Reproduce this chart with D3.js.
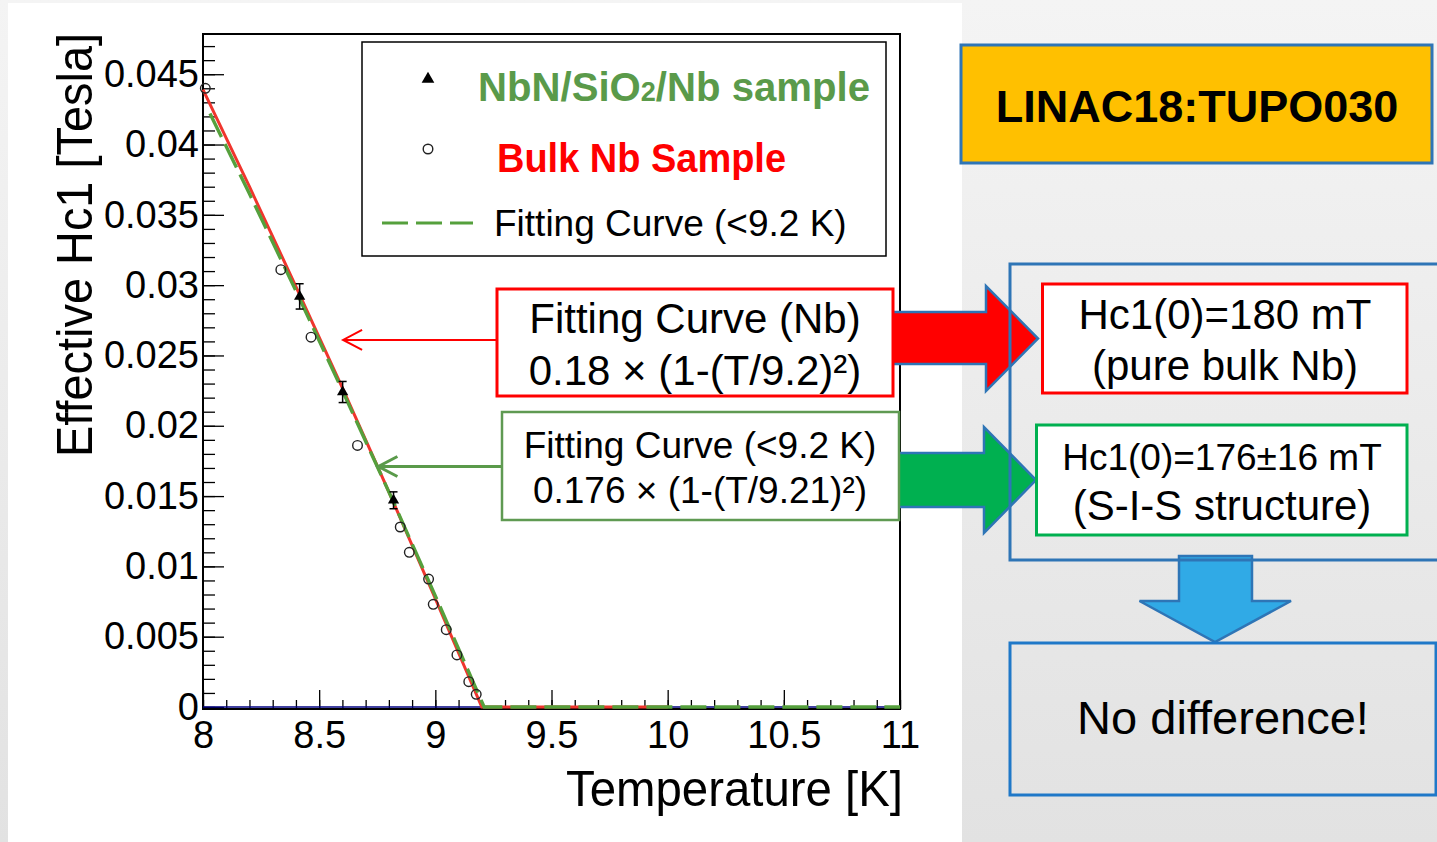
<!DOCTYPE html>
<html>
<head>
<meta charset="utf-8">
<script src="https://cdn.jsdelivr.net/npm/d3@7"></script>
<style>
  body { margin: 0; background: #e8e8e8; }
  text { font-family: "Liberation Sans", Arial, sans-serif; }
</style>
</head>
<body>
<svg id="chart" width="1437" height="842"></svg>
<script>
// bulk Nb sample (open circles)
const bulkT = [8.01, 8.335, 8.465, 8.665, 8.849, 8.888, 8.971, 8.991, 9.047, 9.093, 9.144, 9.176];
const bulkH = [0.0440, 0.0311, 0.0263, 0.0186, 0.0128, 0.0110, 0.0091, 0.0073, 0.0055, 0.0037, 0.0018, 0.0009];

// NbN/SiO2/Nb sample (triangles with error bars)
const filmT = [8.416, 8.601, 8.82];
const filmH = [0.0292, 0.0224, 0.0147];
const filmErr = [0.0009, 0.00075, 0.0006];

// fitting curve for Nb (red, solid)
const nbFitT = [8.0, 8.2, 8.4, 8.6, 8.8, 9.0, 9.2, 10.0];
const nbFitH = [0.0439, 0.0370, 0.0299, 0.0227, 0.0153, 0.0077, 0, 0];

// fitting curve < 9.2 K (green, dashed)
const sisFitT = [8.03, 8.2, 8.4, 8.6, 8.8, 9.0, 9.21, 11.0];
const sisFitH = [0.0422, 0.0365, 0.0296, 0.0225, 0.0153, 0.0079, 0, 0];

// axis ticks
const xMajor = [8, 8.5, 9, 9.5, 10, 10.5, 11];
const xLabels = ["8", "8.5", "9", "9.5", "10", "10.5", "11"];
const yMajor = [0, 0.005, 0.01, 0.015, 0.02, 0.025, 0.03, 0.035, 0.04, 0.045];
const yLabels = ["0", "0.005", "0.01", "0.015", "0.02", "0.025", "0.03", "0.035", "0.04", "0.045"];

const svg = d3.select("#chart");

// slide backgrounds
const defs = svg.append("defs");
const grad = defs.append("linearGradient").attr("id", "bg").attr("x1", 0).attr("y1", 0).attr("x2", 0).attr("y2", 1);
grad.append("stop").attr("offset", "0%").attr("stop-color", "#f4f4f4");
grad.append("stop").attr("offset", "100%").attr("stop-color", "#e2e2e2");
svg.append("rect").attr("x", 0).attr("y", 0).attr("width", 1437).attr("height", 842).attr("fill", "url(#bg)");
svg.append("rect").attr("x", 8).attr("y", 3).attr("width", 954).attr("height", 839).attr("fill", "#fff");

const frame = { left: 203, top: 34, right: 900, bottom: 709 };

const x = d3.scaleLinear().domain([8, 11]).range([frame.left, frame.right]);
const y = d3.scaleLinear().domain([-0.000142, 0.04786]).range([frame.bottom, frame.top]);

const xMinor = d3.range(80, 111).map(d => d / 10);
const yMinor = d3.range(0, 48).map(d => d / 1000);

// frame first, the curves go on top of it
svg.append("rect")
  .attr("x", frame.left).attr("y", frame.top)
  .attr("width", frame.right - frame.left).attr("height", frame.bottom - frame.top)
  .attr("fill", "none").attr("stroke", "#000").attr("stroke-width", 2);

// axes with inward ticks
const xAxisG = svg.append("g").attr("transform", "translate(0," + frame.bottom + ")");
xAxisG.append("g").call(d3.axisBottom(x).tickValues(xMinor).tickSize(-9).tickFormat(""));
xAxisG.append("g").call(
  d3.axisBottom(x).tickValues(xMajor).tickSize(-19).tickPadding(12)
    .tickFormat((d, i) => xLabels[i])
);
xAxisG.selectAll(".domain").remove();
xAxisG.selectAll("line").attr("stroke", "#000").attr("stroke-width", 1.3);
xAxisG.selectAll("text").attr("font-size", 38).attr("font-family", "Liberation Sans, Arial, sans-serif").attr("fill", "#000");

const yAxisG = svg.append("g").attr("transform", "translate(" + frame.left + ",0)");
yAxisG.append("g").call(d3.axisLeft(y).tickValues(yMinor).tickSize(-12).tickFormat(""));
yAxisG.append("g").call(
  d3.axisLeft(y).tickValues(yMajor).tickSize(-21).tickPadding(4)
    .tickFormat((d, i) => yLabels[i])
);
yAxisG.selectAll(".domain").remove();
yAxisG.selectAll("line").attr("stroke", "#000").attr("stroke-width", 1.3);
yAxisG.selectAll("text").attr("font-size", 38).attr("font-family", "Liberation Sans, Arial, sans-serif").attr("fill", "#000");

// zero line
svg.append("line")
  .attr("x1", x(8)).attr("x2", x(11))
  .attr("y1", y(0)).attr("y2", y(0))
  .attr("stroke", "#000080").attr("stroke-width", 1.5);

// curves
const line = d3.line().x(d => x(d[0])).y(d => y(d[1]));

svg.append("path")
  .datum(nbFitT.map((t, i) => [t, nbFitH[i]]))
  .attr("d", line)
  .attr("fill", "none")
  .attr("stroke", "#f0352d")
  .attr("stroke-width", 3);

svg.append("path")
  .datum(sisFitT.map((t, i) => [t, sisFitH[i]]))
  .attr("d", line)
  .attr("fill", "none")
  .attr("stroke", "#55a03c")
  .attr("stroke-width", 3.4)
  .attr("stroke-dasharray", "26 8");

// bulk Nb points
svg.selectAll(".bulk")
  .data(bulkT.map((t, i) => ({ t: t, h: bulkH[i] })))
  .enter()
  .append("circle")
  .attr("class", "bulk")
  .attr("cx", d => x(d.t))
  .attr("cy", d => y(d.h))
  .attr("r", 4.8)
  .attr("fill", "none")
  .attr("stroke", "#222")
  .attr("stroke-width", 1.4);

// NbN/SiO2/Nb points with error bars
const film = svg.selectAll(".film")
  .data(filmT.map((t, i) => ({ t: t, h: filmH[i], e: filmErr[i] })))
  .enter()
  .append("g")
  .attr("class", "film");

film.append("line")
  .attr("x1", d => x(d.t)).attr("x2", d => x(d.t))
  .attr("y1", d => y(d.h - d.e)).attr("y2", d => y(d.h + d.e))
  .attr("stroke", "#000").attr("stroke-width", 1.5);
film.append("line")
  .attr("x1", d => x(d.t) - 4).attr("x2", d => x(d.t) + 4)
  .attr("y1", d => y(d.h + d.e)).attr("y2", d => y(d.h + d.e))
  .attr("stroke", "#000").attr("stroke-width", 1.5);
film.append("line")
  .attr("x1", d => x(d.t) - 4).attr("x2", d => x(d.t) + 4)
  .attr("y1", d => y(d.h - d.e)).attr("y2", d => y(d.h - d.e))
  .attr("stroke", "#000").attr("stroke-width", 1.5);
film.append("path")
  .attr("d", d3.symbol(d3.symbolTriangle).size(55))
  .attr("transform", d => "translate(" + x(d.t) + "," + y(d.h) + ")")
  .attr("fill", "#000");

// axis titles
svg.append("text")
  .attr("transform", "translate(92,245) rotate(-90)")
  .attr("text-anchor", "middle")
  .attr("font-size", 50)
  .attr("textLength", 424)
  .attr("lengthAdjust", "spacingAndGlyphs")
  .text("Effective Hc1 [Tesla]");

svg.append("text")
  .attr("x", 566).attr("y", 806)
  .attr("font-size", 50)
  .attr("textLength", 337)
  .attr("lengthAdjust", "spacingAndGlyphs")
  .text("Temperature [K]");

// legend
svg.append("rect")
  .attr("x", 362).attr("y", 42).attr("width", 524).attr("height", 214)
  .attr("fill", "#fff").attr("stroke", "#000").attr("stroke-width", 1.5);

svg.append("path")
  .attr("d", d3.symbol(d3.symbolTriangle).size(70))
  .attr("transform", "translate(428,79)")
  .attr("fill", "#000");
const nbnText = svg.append("text")
  .attr("x", 478).attr("y", 101)
  .attr("font-family", "Lato, sans-serif").attr("font-weight", "bold")
  .attr("font-size", 40).attr("fill", "#5a9a4a")
  .attr("textLength", 392).attr("lengthAdjust", "spacingAndGlyphs");
nbnText.append("tspan").text("NbN/SiO");
nbnText.append("tspan").attr("font-size", 27).text("2");
nbnText.append("tspan").text("/Nb sample");

svg.append("circle")
  .attr("cx", 428).attr("cy", 149).attr("r", 4.8)
  .attr("fill", "none").attr("stroke", "#222").attr("stroke-width", 1.4);
svg.append("text")
  .attr("x", 497).attr("y", 172)
  .attr("font-family", "Lato, sans-serif").attr("font-weight", "bold")
  .attr("font-size", 40).attr("fill", "#ff0000")
  .attr("textLength", 289).attr("lengthAdjust", "spacingAndGlyphs")
  .text("Bulk Nb Sample");

svg.append("line")
  .attr("x1", 382).attr("x2", 473).attr("y1", 223).attr("y2", 223)
  .attr("stroke", "#55a03c").attr("stroke-width", 3.2).attr("stroke-dasharray", "26 8");
svg.append("text")
  .attr("x", 494).attr("y", 236)
  .attr("font-size", 37)
  .text("Fitting Curve (<9.2 K)");

// annotation arrows pointing at the curve
function chevron(tipT, tipH, fromX, color, w) {
  const tx = x(tipT), ty = y(tipH);
  svg.append("line")
    .attr("x1", fromX).attr("x2", tx).attr("y1", ty).attr("y2", ty)
    .attr("stroke", color).attr("stroke-width", w);
  svg.append("path")
    .attr("d", "M" + (tx + 19) + "," + (ty - 10) + "L" + tx + "," + ty + "L" + (tx + 19) + "," + (ty + 10))
    .attr("fill", "none").attr("stroke", color).attr("stroke-width", w);
}
chevron(8.603, 0.0261, 497, "#ff0000", 2);
chevron(8.755, 0.0171, 502, "#5a9a4a", 3);

// block arrows from the fit boxes
svg.append("path")
  .attr("d", "M890,312L986,312L986,286L1038,338.5L986,391L986,364L890,364Z")
  .attr("fill", "#ff0000").attr("stroke", "#2e75b6").attr("stroke-width", 2.5);
svg.append("path")
  .attr("d", "M896,453L984,453L984,427L1036,480L984,533L984,507L896,507Z")
  .attr("fill", "#00b050").attr("stroke", "#2e75b6").attr("stroke-width", 2.5);

// fit boxes
svg.append("rect")
  .attr("x", 497).attr("y", 289).attr("width", 396).attr("height", 107)
  .attr("fill", "#fff").attr("stroke", "#ff0000").attr("stroke-width", 3);
svg.append("text").attr("x", 695).attr("y", 333).attr("text-anchor", "middle")
  .attr("font-size", 42).text("Fitting Curve (Nb)");
svg.append("text").attr("x", 695).attr("y", 385).attr("text-anchor", "middle")
  .attr("font-size", 42).text("0.18 × (1-(T/9.2)²)");

svg.append("rect")
  .attr("x", 502).attr("y", 412).attr("width", 397).attr("height", 108)
  .attr("fill", "#fff").attr("stroke", "#5f9a52").attr("stroke-width", 2.5);
svg.append("text").attr("x", 700).attr("y", 458).attr("text-anchor", "middle")
  .attr("font-size", 37).text("Fitting Curve (<9.2 K)");
svg.append("text").attr("x", 700).attr("y", 503).attr("text-anchor", "middle")
  .attr("font-size", 37).text("0.176 × (1-(T/9.21)²)");

// right panel
svg.append("rect")
  .attr("x", 961).attr("y", 45).attr("width", 471).attr("height", 118)
  .attr("fill", "#ffc000").attr("stroke", "#2e75b6").attr("stroke-width", 3);
svg.append("text").attr("x", 1197).attr("y", 122).attr("text-anchor", "middle")
  .attr("font-size", 45).attr("font-weight", "bold").text("LINAC18:TUPO030");

svg.append("path")
  .attr("d", "M1179,556L1252,556L1252,601L1291,601L1215,642L1139.5,601L1179,601Z")
  .attr("fill", "#30aae6").attr("stroke", "#2e75b6").attr("stroke-width", 2.5);

svg.append("rect")
  .attr("x", 1010).attr("y", 264).attr("width", 440).attr("height", 296)
  .attr("fill", "none").attr("stroke", "#2e75b6").attr("stroke-width", 3);

svg.append("rect")
  .attr("x", 1042.5).attr("y", 284).attr("width", 364.5).attr("height", 109)
  .attr("fill", "#fff").attr("stroke", "#ff0000").attr("stroke-width", 3);
svg.append("text").attr("x", 1225).attr("y", 329).attr("text-anchor", "middle")
  .attr("font-size", 42).text("Hc1(0)=180 mT");
svg.append("text").attr("x", 1225).attr("y", 380).attr("text-anchor", "middle")
  .attr("font-size", 42).text("(pure bulk Nb)");

svg.append("rect")
  .attr("x", 1036.5).attr("y", 425).attr("width", 370.5).attr("height", 110)
  .attr("fill", "#fff").attr("stroke", "#00b050").attr("stroke-width", 3);
svg.append("text").attr("x", 1222).attr("y", 470).attr("text-anchor", "middle")
  .attr("font-size", 37).text("Hc1(0)=176±16 mT");
svg.append("text").attr("x", 1222).attr("y", 520).attr("text-anchor", "middle")
  .attr("font-size", 42).text("(S-I-S structure)");

svg.append("rect")
  .attr("x", 1010).attr("y", 643).attr("width", 426).attr("height", 152)
  .attr("fill", "none").attr("stroke", "#1f78c8").attr("stroke-width", 3);
svg.append("text").attr("x", 1223).attr("y", 734).attr("text-anchor", "middle")
  .attr("font-size", 47).text("No difference!");
</script>
</body>
</html>
